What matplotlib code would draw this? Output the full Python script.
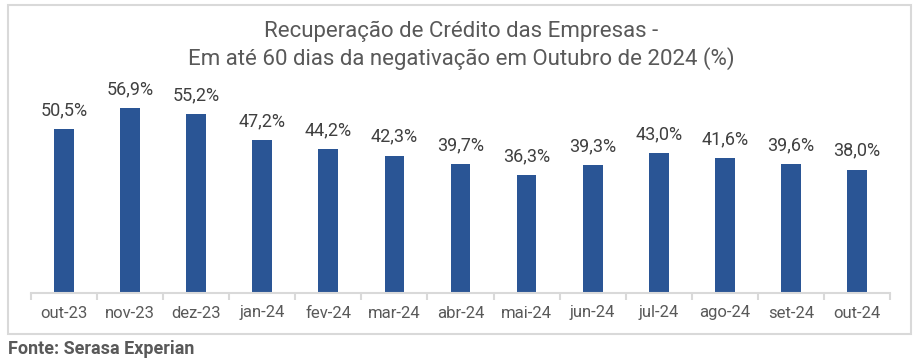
import matplotlib.pyplot as plt
from matplotlib.patches import Rectangle
import numpy as np

plt.rcParams['font.family'] = ['Roboto', 'DejaVu Sans']

# Data
months = ["out-23", "nov-23", "dez-23", "jan-24", "fev-24", "mar-24", "abr-24",
          "mai-24", "jun-24", "jul-24", "ago-24", "set-24", "out-24"]
values = [50.5, 56.9, 55.2, 47.2, 44.2, 42.3, 39.7, 36.3, 39.3, 43.0, 41.6, 39.6, 38.0]

text_color = "#595959"
bar_color = "#2A5595"
line_color = "#D9D9D9"

fig = plt.figure(figsize=(9.22, 3.61), dpi=100)
ax = fig.add_axes([31 / 922, 68 / 361, 859 / 922, 193 / 361])

x = np.arange(len(months))
ax.bar(x, values, width=0.3, color=bar_color)

for xi, v in zip(x, values):
    ax.annotate(f"{v:.1f}%".replace(".", ","), (xi, v), xytext=(0, 7),
                textcoords="offset points", ha="center", va="bottom",
                fontsize=13, color="#404040", annotation_clip=False)

ax.set_xlim(-0.5, len(months) - 0.5)
ax.set_ylim(0, 59.4)
ax.set_yticks([])
ax.set_xticks(x)
ax.set_xticklabels(months, fontsize=12, color=text_color)
ax.tick_params(axis="x", which="major", length=0, pad=9)
ax.set_xticks(np.arange(-0.5, len(months)), minor=True)
ax.tick_params(axis="x", which="minor", length=5, color=line_color, width=1.5)

for s in ["top", "left", "right"]:
    ax.spines[s].set_visible(False)
ax.spines["bottom"].set_color(line_color)
ax.spines["bottom"].set_linewidth(1.5)

# Title (two lines)
fig.text(0.5, 1 - 31 / 361, "Recuperação de Crédito das Empresas -",
         ha="center", va="center", fontsize=16, color=text_color)
fig.text(0.5, 1 - 59 / 361, "Em até 60 dias da negativação em Outubro de 2024 (%)",
         ha="center", va="center", fontsize=16, color=text_color)

# Border around chart
fig.patches.append(Rectangle((8 / 922, (361 - 334) / 361), 903 / 922, 329 / 361,
                             transform=fig.transFigure, fill=False,
                             edgecolor=line_color, linewidth=1.5))

fig.text(8 / 922, (361 - 349) / 361, "Fonte: Serasa Experian", ha="left", va="center",
         fontsize=13, fontweight="bold", color=text_color)

fig.savefig("out.png", dpi=100)
